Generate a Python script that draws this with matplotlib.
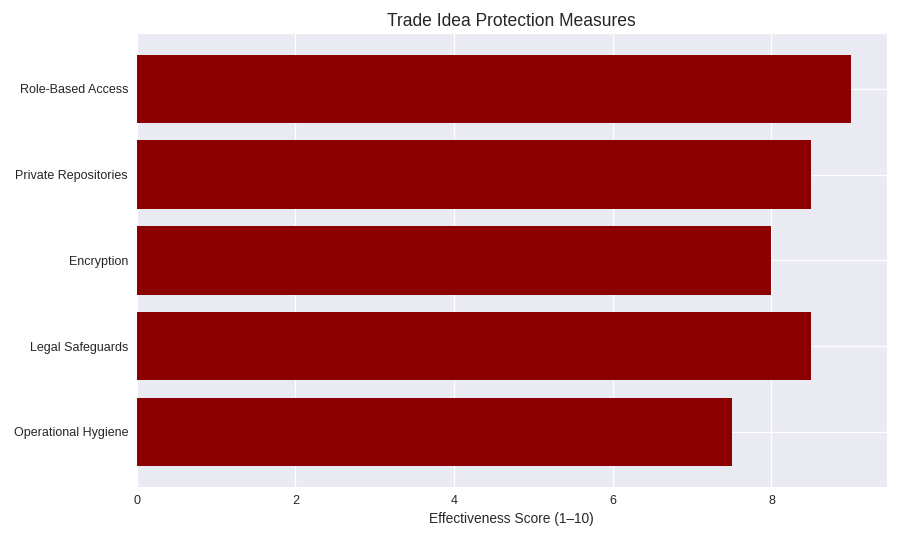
import matplotlib.pyplot as plt

plt.style.use("seaborn-v0_8")
plt.rcParams["font.family"] = ["Liberation Sans", "DejaVu Sans"]

# Data
measures = [
    "Role-Based Access",
    "Private Repositories",
    "Encryption",
    "Legal Safeguards",
    "Operational Hygiene",
]
scores = [9.0, 8.5, 8.0, 8.5, 7.5]

fig, ax = plt.subplots(figsize=(10, 6), dpi=90)

ax.barh(measures[::-1], scores[::-1], color="#8B0000")

ax.set_title("Trade Idea Protection Measures", fontsize=14)
ax.set_xlabel("Effectiveness Score (1\u201310)")

fig.tight_layout()
fig.savefig("out.png", dpi=90)
